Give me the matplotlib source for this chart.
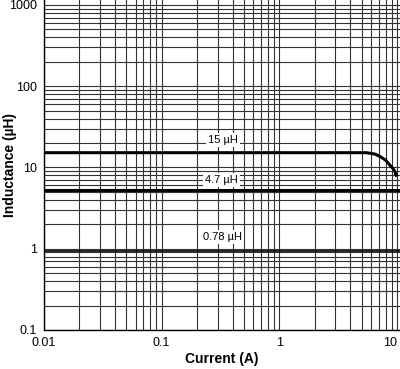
import matplotlib
matplotlib.use("Agg")
import matplotlib.pyplot as plt
from matplotlib.ticker import LogLocator, FixedLocator, FixedFormatter, NullFormatter

plt.rcParams["font.family"] = ["Liberation Sans", "DejaVu Sans"]

# ==================== DATA ===================
current_15 = [0.01, 5.5, 6.5, 7.2, 8.0, 8.7, 9.3, 9.6, 9.9]
induct_15 = [15.2, 15.2, 14.6, 13.6, 12.3, 10.7, 9.6, 8.9, 7.7]

current_47 = [0.01, 10.6]
induct_47 = [5.35, 5.35]

current_078 = [0.01, 10.6]
induct_078 = [0.93, 0.93]

curve_labels = ["15 µH", "4.7 µH", "0.78 µH"]
label_x = [0.33, 0.32, 0.33]
label_y = [22.0, 7.0, 1.4]

x_ticks = [0.01, 0.1, 1, 10]
x_ticklabels = ["0.01", "0.1", "1", "10"]
y_ticks = [0.1, 1, 10, 100, 1000]
y_ticklabels = ["0.1", "1", "10", "100", "1000"]

# ==================== PLOT ===================
fig = plt.figure(figsize=(4.0, 3.69), dpi=100)
ax = fig.add_axes([0.11, 1 - 330 / 369, 0.89, 330 / 369])

ax.set_xscale("log")
ax.set_yscale("log")
ax.set_xlim(0.01, 10.6)
ax.set_ylim(0.1, 1150)

grid_kw = dict(color="#333333", linewidth=0.8)
ax.xaxis.set_major_locator(FixedLocator(x_ticks))
ax.xaxis.set_major_formatter(FixedFormatter(x_ticklabels))
ax.yaxis.set_major_locator(FixedLocator(y_ticks))
ax.yaxis.set_major_formatter(FixedFormatter(y_ticklabels))
ax.xaxis.set_minor_locator(LogLocator(base=10, subs=range(2, 10), numticks=20))
ax.yaxis.set_minor_locator(LogLocator(base=10, subs=range(2, 10), numticks=20))
ax.xaxis.set_minor_formatter(NullFormatter())
ax.yaxis.set_minor_formatter(NullFormatter())
ax.grid(True, which="both", **grid_kw)
ax.tick_params(which="both", length=0, labelsize=9, pad=5)

for side in ["top", "right"]:
    ax.spines[side].set_visible(False)
for side in ["left", "bottom"]:
    ax.spines[side].set_linewidth(1.0)

ax.plot(current_15, induct_15, color="black", linewidth=2.2, solid_capstyle="butt")
ax.plot(current_47, induct_47, color="black", linewidth=2.2)
ax.plot(current_078, induct_078, color="black", linewidth=1.2)

for txt, lx, ly in zip(curve_labels, label_x, label_y):
    ax.text(lx, ly, txt, fontsize=8, ha="center", va="center",
            bbox=dict(facecolor="white", edgecolor="none", pad=1.5))

ax.set_xlabel("Current (A)", fontsize=10, fontweight="bold", labelpad=2)
ax.set_ylabel("Inductance (µH)", fontsize=10, fontweight="bold")
ax.yaxis.set_label_coords(-0.075, 0.5)

# keep the last x tick label inside the figure
ax.get_xticklabels()[-1].set_horizontalalignment("right")

plt.savefig("out.png", dpi=100)
